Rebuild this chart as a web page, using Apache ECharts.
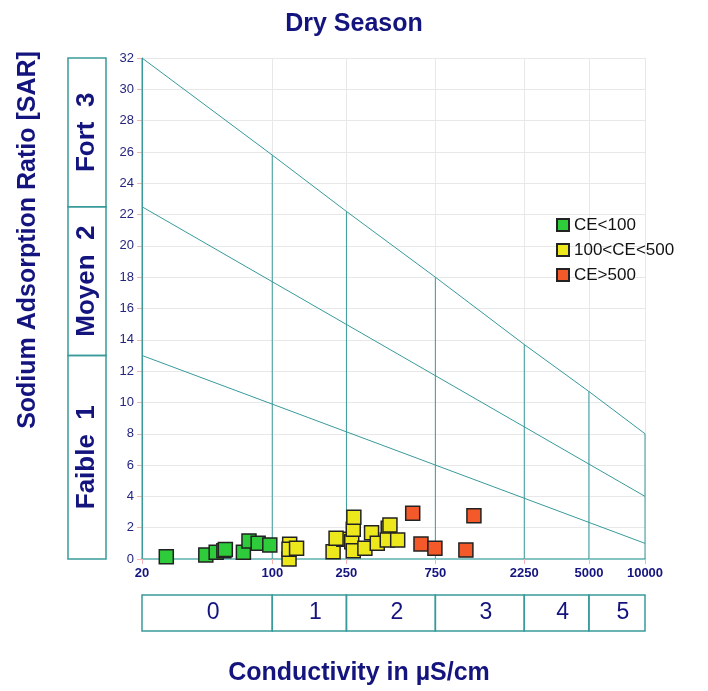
<!DOCTYPE html>
<html>
<head>
<meta charset="utf-8">
<script src="https://cdn.jsdelivr.net/npm/echarts@6/dist/echarts.min.js"></script>
<style>
  html, body { margin: 0; padding: 0; background: #fff; }
  #chart { width: 708px; height: 691px; }
</style>
</head>
<body>
<div id="chart"></div>
<script>
// conductivity ticks (µS/cm) and class labels under the axis
const xTicks = [20, 100, 250, 750, 2250, 5000, 10000];
const ceClasses = ['0', '1', '2', '3', '4', '5'];

// SAR classes on the left
const sarBounds = [0, 13, 22.5, 32];
const sarClasses = ['Faible  1', 'Moyen  2', 'Fort  3'];

// SAR of the upper boundary line at each conductivity tick
const topLine = [32, 25.8, 22.2, 18, 13.7, 10.7, 8];
const midLine = [[20, 22.5], [10000, 4]];
const lowLine = [[20, 13], [10000, 1]];

// samples [conductivity, SAR]
const greenPts = [[27, 0.15], [44, 0.26], [50, 0.43], [55, 0.53], [56, 0.6], [70, 0.43], [75, 1.15], [84, 1.0], [97, 0.9]];
const yellowPts = [[123, 0.0], [124, 0.94], [123, 0.62], [135, 0.68], [212, 0.47], [242, 1.26], [220, 1.32], [267, 1.1],
  [272, 0.53], [272, 1.9], [274, 2.66], [314, 0.68], [341, 1.68], [366, 1.0], [419, 1.96], [428, 2.17], [414, 1.21], [471, 1.21]];
const redPts = [[567, 2.92], [628, 0.96], [746, 0.68], [1094, 0.57], [1208, 2.77]];

const navy = '#14147f';
const teal = '#389a9a';

const chart = echarts.init(document.getElementById('chart'));

const boundary = (data) => ({
  type: 'line',
  data: data,
  symbol: 'none',
  silent: true,
  z: 2,
  lineStyle: { color: teal, width: 1 }
});

const lineSeries = [
  boundary(xTicks.map((x, i) => [x, topLine[i]])),
  boundary(midLine),
  boundary(lowLine)
];
xTicks.forEach((x, i) => {
  lineSeries.push(boundary([[x, 0], [x, topLine[i]]]));
});

const points = (name, data, color) => ({
  name: name,
  type: 'scatter',
  data: data,
  symbol: 'rect',
  symbolSize: 14,
  z: 5,
  itemStyle: { color: color, borderColor: '#222', borderWidth: 1.5, opacity: 1 }
});

chart.setOption({
  animation: false,
  title: {
    text: 'Dry Season',
    left: 'center',
    top: 7,
    textStyle: { color: navy, fontSize: 25, fontWeight: 'bold', fontFamily: 'Liberation Sans' }
  },
  legend: {
    orient: 'vertical',
    left: 551,
    top: 211,
    icon: 'rect',
    itemWidth: 12,
    itemHeight: 12,
    itemGap: 7,
    textStyle: { fontSize: 17, color: '#111', fontFamily: 'Liberation Sans', lineHeight: 18 },
    data: ['CE<100', '100<CE<500', 'CE>500']
  },
  grid: { left: 142, right: 63, top: 58, bottom: 132 },
  xAxis: {
    type: 'log',
    logBase: 10,
    min: 20,
    max: 10000,
    axisLine: { lineStyle: { color: '#86c3c3', width: 2 } },
    axisTick: { show: true, length: 5, lineStyle: { color: '#f2b4b4' }, customValues: xTicks },
    axisLabel: {
      color: navy, fontSize: 13, fontWeight: 'bold', fontFamily: 'Liberation Sans', margin: 8,
      customValues: xTicks,
      formatter: (v) => String(Math.round(v))
    },
    splitLine: { show: true, lineStyle: { color: '#e8e8e8' } },
    minorTick: { show: false }
  },
  yAxis: {
    type: 'value',
    min: 0,
    max: 32,
    interval: 2,
    axisLine: { show: true, lineStyle: { color: teal, width: 1 } },
    axisTick: { show: true, length: 5, lineStyle: { color: '#f2b4b4' } },
    axisLabel: { color: '#25257f', fontSize: 13, fontFamily: 'Liberation Sans', margin: 8 },
    splitLine: { show: true, lineStyle: { color: '#e8e8e8' } }
  },
  series: [
    ...lineSeries,
    points('CE<100', greenPts, '#2ecb3a'),
    points('100<CE<500', yellowPts, '#ede81c'),
    points('CE>500', redPts, '#f4592a')
  ]
});

// class boxes placed through the axes' own scales
const graphics = [];
for (let i = 0; i < sarClasses.length; i++) {
  const y0 = chart.convertToPixel({ yAxisIndex: 0 }, sarBounds[i]);
  const y1 = chart.convertToPixel({ yAxisIndex: 0 }, sarBounds[i + 1]);
  graphics.push({
    type: 'rect',
    shape: { x: 68, y: y1, width: 38, height: y0 - y1 },
    style: { fill: 'none', stroke: teal, lineWidth: 1.5 }
  });
  graphics.push({
    type: 'text',
    x: 87,
    y: (y0 + y1) / 2,
    rotation: Math.PI / 2,
    style: {
      text: sarClasses[i], fill: navy, font: 'bold 26px "Liberation Sans"',
      textAlign: 'center', textVerticalAlign: 'middle'
    }
  });
}
for (let i = 0; i < ceClasses.length; i++) {
  const x0 = chart.convertToPixel({ xAxisIndex: 0 }, xTicks[i]);
  const x1 = chart.convertToPixel({ xAxisIndex: 0 }, xTicks[i + 1]);
  graphics.push({
    type: 'rect',
    shape: { x: x0, y: 595, width: x1 - x0, height: 36 },
    style: { fill: 'none', stroke: teal, lineWidth: 1.5 }
  });
  graphics.push({
    type: 'text',
    x: (x0 + x1) / 2 + 6,
    y: 613,
    style: {
      text: ceClasses[i], fill: navy, font: '23px "Liberation Sans"',
      textAlign: 'center', textVerticalAlign: 'middle'
    }
  });
}
graphics.push({
  type: 'text',
  x: 28,
  y: 240,
  rotation: Math.PI / 2,
  style: {
    text: 'Sodium Adsorption Ratio [SAR]', fill: navy, font: 'bold 25px "Liberation Sans"',
    textAlign: 'center', textVerticalAlign: 'middle'
  }
});
graphics.push({
  type: 'text',
  x: 359,
  y: 673,
  style: {
    text: 'Conductivity in µS/cm', fill: navy, font: 'bold 25px "Liberation Sans"',
    textAlign: 'center', textVerticalAlign: 'middle'
  }
});
chart.setOption({ graphic: graphics });
</script>
</body>
</html>
